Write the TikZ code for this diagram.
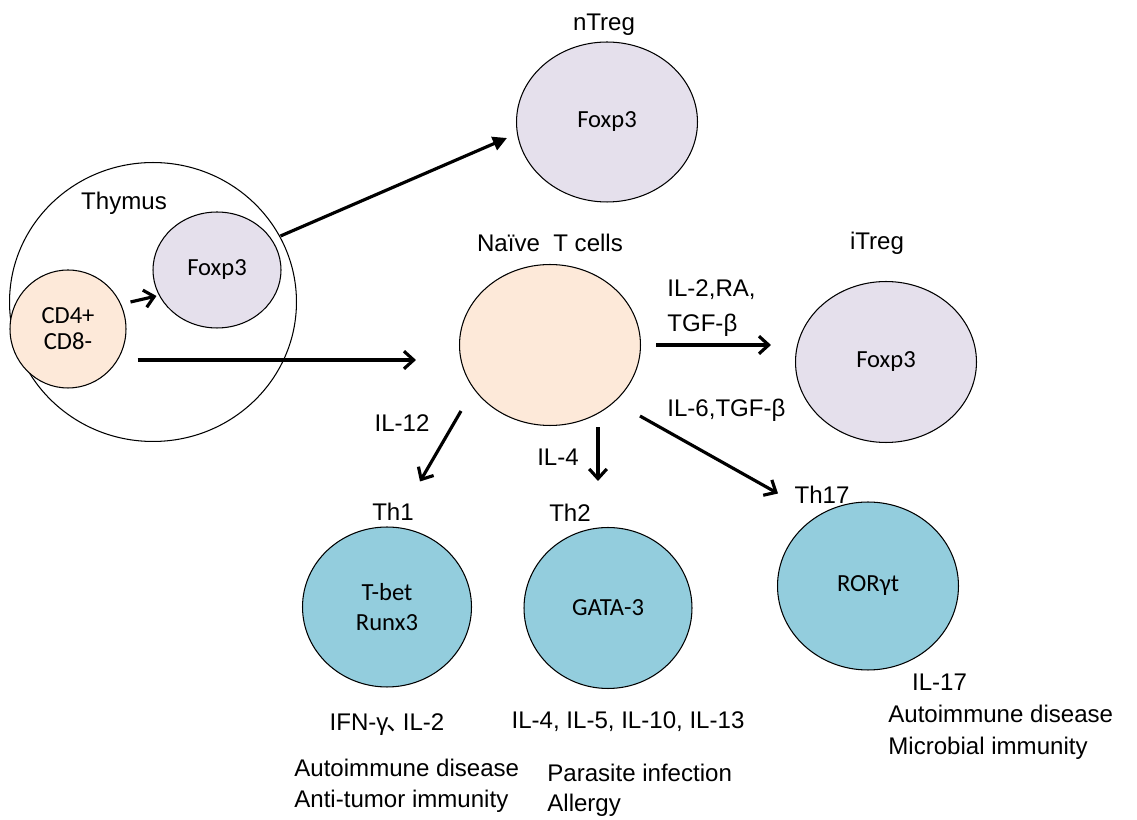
\documentclass[tikz,border=0pt]{standalone}
\usepackage{fontspec}
\setmainfont{Liberation Sans}
\newfontfamily\calfont{Carlito}
\newfontfamily\cjkfont{Noto Sans CJK SC}
\usetikzlibrary{shapes.geometric,arrows.meta,calc}

\definecolor{naivefill}{RGB}{253,233,217}
\definecolor{tregfill}{RGB}{229,224,236}
\definecolor{thfill}{RGB}{147,205,221}

\tikzset{
  cell/.style={ellipse, draw=black, line width=0.6pt, inner sep=0pt,
    font=\calfont\fontsize{14}{17}\selectfont, align=center},
  lbl/.style={font=\fontsize{13.7}{18}\selectfont, inner sep=0pt},
  arr/.style={-{Straight Barb[length=5.5pt,width=10pt]}, line width=1.8pt},
  arrfill/.style={-{Triangle[length=8pt,width=8pt]}, line width=1.8pt},
}

\begin{document}
\begin{tikzpicture}[x=0.02cm,y=-0.02cm]
  \useasboundingbox (0,0) rectangle (1137,820);
  % thymus
  \node[cell, minimum width=5.74cm, minimum height=5.58cm] (thymus) at (153,302) {};
  \node[lbl] (thymuslbl) at (124,203) {Thymus};
  \node[cell, fill=tregfill, minimum width=2.56cm, minimum height=2.32cm] (tfoxp) at (217,270) {Foxp3};
  \node[cell, fill=naivefill, minimum width=2.32cm, minimum height=2.36cm, font=\calfont\fontsize{14}{14.8}\selectfont] (cd4) at (68,329) {CD4+\\CD8-};

  % cells
  \node[cell, fill=tregfill, minimum width=3.62cm, minimum height=3.2cm] (ntreg) at (607,122) {Foxp3};
  \node[lbl] (ntreglbl) at (604,25) {nTreg};
  \node[cell, fill=naivefill, minimum width=3.62cm, minimum height=3.22cm] (naive) at (550,345) {};
  \node[lbl] (naivelbl) at (550,243) {Naïve\ \ T cells};
  \node[cell, fill=tregfill, minimum width=3.62cm, minimum height=3.22cm] (itreg) at (886,362) {Foxp3};
  \node[lbl] (itreglbl) at (877,243) {iTreg};
  \node[cell, fill=thfill, minimum width=3.38cm, minimum height=3.2cm] (th1) at (387,607) {T-bet\\Runx3};
  \node[lbl] (th1lbl) at (393,512) {Th1};
  \node[cell, fill=thfill, minimum width=3.36cm, minimum height=3.22cm] (th2) at (608,608) {GATA-3};
  \node[lbl] (th2lbl) at (570,513) {Th2};
  \node[cell, fill=thfill, minimum width=3.62cm, minimum height=3.36cm] (th17) at (868,586) {RORγt};
  \node[lbl] (th17lbl) at (822,495) {Th17};

  % arrows
  \draw[arrfill] ($(tfoxp.east)+(-1,-34)$) -- ($(ntreg.west)+(-9,16)$);
  \draw[arr] ($(cd4.east)+(4,-27)$) -- ($(tfoxp.west)+(4,26)$);
  \draw[arr] ($(cd4.east)+(11,31)$) -- ($(naive.west)+(-43,15)$);
  \draw[arr] ($(naive.east)+(15,0)$) -- ($(itreg.west)+(-24,-17)$);
  \draw[arr] ($(naive.south)+(-89,-15)$) -- ($(th1.north)+(33,-45)$);
  \draw[arr] ($(naive.south)+(48,1)$) -- ($(th2.north)+(-10,-46)$);
  \draw[arr] ($(naive.south)+(90,-10)$) -- ($(th17.north)+(-90,-8)$);

  % cytokines
  \node[lbl, anchor=west, align=left, font=\fontsize{13.7}{20}\selectfont] (itregcyt) at (667,308) {IL-2,RA,\\TGF-β};
  \node[lbl, anchor=west] (th17cyt) at (667,410) {IL-6,TGF-β};
  \node[lbl] (th1cyt) at (402,423) {IL-12};
  \node[lbl] (th2cyt) at (558,457) {IL-4};

  % products and diseases
  \node[lbl] (th1prod) at (387,725) {IFN-γ{\cjkfont\kern-1pt 、\kern-4.5pt}IL-2};
  \node[lbl] (th2prod) at (628,722) {IL-4, IL-5, IL-10, IL-13};
  \node[lbl, anchor=west, align=left, font=\fontsize{13.7}{17.6}\selectfont] (th1dis) at (294,786) {Autoimmune disease\\Anti-tumor immunity};
  \node[lbl, anchor=west, align=left, font=\fontsize{13.7}{17}\selectfont] (th2dis) at (547,790) {Parasite infection\\Allergy};
  \node[lbl, anchor=west, align=left, font=\fontsize{13.7}{18.2}\selectfont] (th17dis) at (888,717) {\hspace*{13.5pt}IL-17\\Autoimmune disease\\Microbial immunity};
\end{tikzpicture}
\end{document}
